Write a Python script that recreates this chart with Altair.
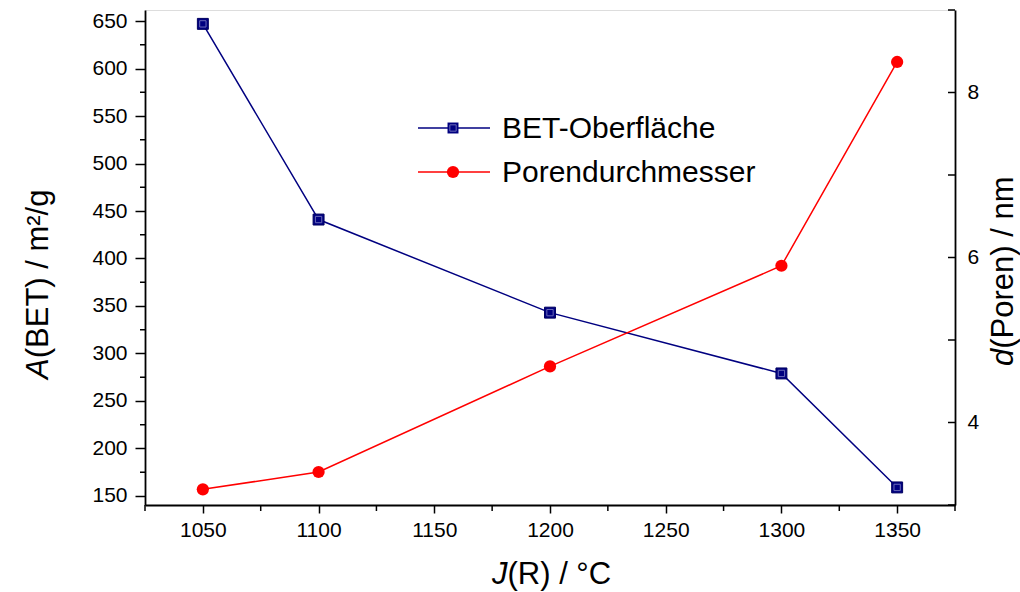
import altair as alt
import pandas as pd

# ---- data ----
temps = [1050, 1100, 1200, 1300, 1350]
bet_area = [647, 441, 343, 279, 159]          # A(BET) / m^2/g  (left axis)
pore_diam = [3.19, 3.40, 4.68, 5.90, 8.37]    # d(Poren) / nm   (right axis)
series_names = ["BET-Oberfläche", "Porendurchmesser"]
series_colors = ["#000080", "#ff0000"]

x_major = [1050, 1100, 1150, 1200, 1250, 1300, 1350]
x_minor = [1025, 1075, 1125, 1175, 1225, 1275, 1325, 1375]
left_major = [150, 200, 250, 300, 350, 400, 450, 500, 550, 600, 650]
left_minor = [175, 225, 275, 325, 375, 425, 475, 525, 575, 625]
right_major = [4, 6, 8]
right_all = [3, 4, 5, 6, 7, 8, 9]

X_DOMAIN = [1025, 1375]
L_DOMAIN = [140.5, 661.6]
R_DOMAIN = [3, 9]
W, H = 810, 495
FONT = "Liberation Sans"

df = pd.DataFrame({"T": temps, "A": bet_area, "d": pore_diam})

xs = alt.Scale(domain=X_DOMAIN, nice=False, zero=False)
ls = alt.Scale(domain=L_DOMAIN, nice=False, zero=False)
rs = alt.Scale(domain=R_DOMAIN, nice=False, zero=False)

x_axis = alt.Axis(values=x_major, title=None, format="d", grid=False,
                  tickSize=8, tickWidth=1.5, tickColor="black",
                  domainColor="black", domainWidth=1.8,
                  labelFontSize=21, labelFont=FONT, labelColor="black",
                  labelPadding=6, labelFlush=False)

base = alt.Chart(df)

bet_line = base.mark_line(color=series_colors[0], strokeWidth=1.5).encode(
    x=alt.X("T:Q", scale=xs, axis=x_axis),
    y=alt.Y("A:Q", scale=ls,
            axis=alt.Axis(values=left_major, title=None, grid=False, orient="left",
                          tickSize=10, tickWidth=1.5, tickColor="black",
                          domainColor="black", domainWidth=1.8,
                          labelFontSize=21, labelFont=FONT, labelColor="black",
                          labelPadding=8, labelFlush=False)),
)
bet_pts = base.mark_point(shape="square", filled=True, size=120, opacity=1,
                          color=series_colors[0], stroke="#000060", strokeWidth=1).encode(
    x=alt.X("T:Q", scale=xs),
    y=alt.Y("A:Q", scale=ls, axis=None),
)
# light inner highlight of Origin-style square markers
bet_hl = base.mark_point(shape="square", filled=False, size=40, opacity=1,
                         stroke="#6a6ab8", strokeWidth=1).encode(
    x=alt.X("T:Q", scale=xs),
    y=alt.Y("A:Q", scale=ls, axis=None),
)

pore_line = base.mark_line(color=series_colors[1], strokeWidth=1.5).encode(
    x=alt.X("T:Q", scale=xs),
    y=alt.Y("d:Q", scale=rs,
            axis=alt.Axis(values=right_major, title=None, grid=False, orient="right",
                          ticks=False, domainColor="black", domainWidth=1.8,
                          labelFontSize=21, labelFont=FONT, labelColor="black",
                          labelPadding=12, labelFlush=False)),
)
pore_pts = base.mark_point(shape="circle", filled=True, size=150, opacity=1,
                           color=series_colors[1]).encode(
    x=alt.X("T:Q", scale=xs),
    y=alt.Y("d:Q", scale=rs, axis=None),
)

# minor / inward ticks
xminor = alt.Chart(pd.DataFrame({"v": x_minor})).mark_rule(color="black", strokeWidth=1.5).encode(
    x=alt.X("v:Q", scale=xs), y=alt.value(H), y2=alt.value(H + 6))
lminor = alt.Chart(pd.DataFrame({"v": left_minor})).mark_rule(color="black", strokeWidth=1.5).encode(
    y=alt.Y("v:Q", scale=ls, axis=None), x=alt.value(-5), x2=alt.value(0))
rticks = alt.Chart(pd.DataFrame({"v": right_all})).mark_rule(color="black", strokeWidth=1.5).encode(
    y=alt.Y("v:Q", scale=rs, axis=None), x=alt.value(W - 7), x2=alt.value(W))

# legend (decorative)
leg_rows = [118, 162]
legend_layers = []
for name, col, shp, yy in zip(series_names, series_colors, ["square", "circle"], leg_rows):
    ldf = pd.DataFrame({"name": [name]})
    legend_layers.append(alt.Chart(ldf).mark_rule(color=col, strokeWidth=1.5).encode(
        x=alt.value(273), x2=alt.value(345), y=alt.value(yy)))
    legend_layers.append(alt.Chart(ldf).mark_point(shape=shp, filled=True, opacity=1,
                                                   size=120 if shp == "square" else 150,
                                                   color=col).encode(
        x=alt.value(308), y=alt.value(yy)))
    if shp == "square":
        legend_layers.append(alt.Chart(ldf).mark_point(shape="square", filled=False, size=40,
                                                       opacity=1, stroke="#6a6ab8",
                                                       strokeWidth=1).encode(
            x=alt.value(308), y=alt.value(yy)))
    legend_layers.append(alt.Chart(ldf).mark_text(align="left", baseline="middle", font=FONT,
                                                  fontSize=30, color="black").encode(
        x=alt.value(357), y=alt.value(yy + 1), text="name:N"))

# axis titles with italic symbols
def txt(s, x, y, size, italic=False, angle=0):
    kw = dict(align="left", baseline="alphabetic", font=FONT, fontSize=size, color="black")
    if italic:
        kw["fontStyle"] = "italic"
    if angle:
        kw["angle"] = angle
    return alt.Chart(pd.DataFrame({"t": [s]})).mark_text(**kw).encode(
        x=alt.value(x), y=alt.value(y), text="t:N")

titles = [
    txt("J", 347, 574, 31, italic=True),
    txt("(R) / °C", 362.5, 574, 31),
    txt("A", -97, 369, 31, italic=True, angle=270),
    txt("(BET) / m²/g", -97, 348.3, 31, angle=270),
    txt("d", 868, 356, 31, italic=True, angle=270),
    txt("(Poren) / nm", 868, 338.8, 31, angle=270),
]

chart = alt.layer(bet_line, bet_pts, bet_hl, pore_line, pore_pts, xminor, lminor, rticks,
                  *legend_layers, *titles).resolve_scale(y="independent").properties(
    width=W, height=H,
    autosize=alt.AutoSizeParams(type="none"),
    padding={"left": 145, "top": 10, "right": 65, "bottom": 87},
).configure_view(stroke=None).configure(background="white")

chart.save("out.html", embed_options={"renderer": "svg", "actions": False})
